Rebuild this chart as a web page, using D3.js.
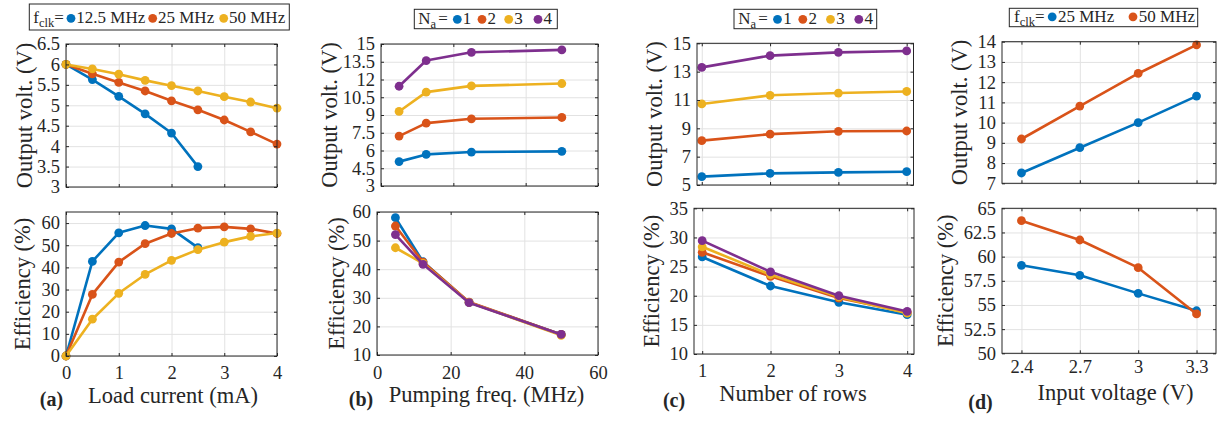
<!DOCTYPE html>
<html>
<head>
<meta charset="utf-8" />
<script src="https://d3js.org/d3.v7.min.js"></script>
<style>
  body { margin: 0; background: #fff; }
  svg, svg text { font-family: "Liberation Serif", "DejaVu Serif", serif !important; }
  svg text { fill: #262626; }
</style>
</head>
<body>
<svg id="viz" width="1217" height="421" font-family="Liberation Serif, DejaVu Serif, serif"></svg>
<script>
// ---- data ----
var loadCurrent = [0, 0.5, 1, 1.5, 2, 2.5, 3, 3.5, 4];
var fclkA = ["12.5 MHz", "25 MHz", "50 MHz"];
var voutA = [
  [6, 5.63, 5.22, 4.79, 4.32, 3.5],
  [6, 5.77, 5.56, 5.35, 5.11, 4.89, 4.64, 4.35, 4.05],
  [6, 5.89, 5.76, 5.61, 5.48, 5.35, 5.21, 5.08, 4.93]
];
var effA = [
  [0, 42.7, 55.6, 58.9, 57.4, 48.9],
  [0, 27.8, 42.4, 50.7, 55.3, 57.7, 58.3, 57.4, 55.3],
  [0, 16.6, 28.3, 36.8, 43.2, 48, 51.4, 54, 55.5]
];

var pumpFreq = [5, 12.5, 25, 50];
var naLabels = ["1", "2", "3", "4"];
var voutB = [
  [5.06, 5.67, 5.87, 5.93],
  [7.22, 8.31, 8.68, 8.79],
  [9.3, 10.93, 11.46, 11.66],
  [11.43, 13.6, 14.3, 14.5]
];
var effB = [
  [58.0, 42.6, 28.4, 17.2],
  [55.1, 42.5, 28.5, 17.2],
  [47.5, 42.0, 28.4, 16.9],
  [52.1, 41.7, 28.3, 17.2]
];

var rows = [1, 2, 3, 4];
var voutC = [
  [5.59, 5.82, 5.89, 5.94],
  [8.13, 8.59, 8.79, 8.81],
  [10.72, 11.33, 11.49, 11.6],
  [13.3, 14.13, 14.36, 14.46]
];
var effC = [
  [26.65, 21.67, 18.87, 16.75],
  [27.45, 23.33, 19.6, 17.15],
  [28.4, 23.6, 19.8, 17.0],
  [29.45, 24.1, 20.0, 17.3]
];

var inputV = [2.4, 2.7, 3, 3.3];
var fclkD = ["25 MHz", "50 MHz"];
var voutD = [
  [7.51, 8.76, 10.0, 11.31],
  [9.19, 10.82, 12.43, 13.84]
];
var effD = [
  [59.1, 58.07, 56.2, 54.4],
  [63.72, 61.72, 58.86, 54.07]
];

// tick values
var xTicksA = [0, 1, 2, 3, 4];
var vTicksA = [3, 3.5, 4, 4.5, 5, 5.5, 6, 6.5];
var eTicksA = [0, 10, 20, 30, 40, 50, 60];
var xTicksB = [0, 20, 40, 60];
var vTicksB = [3, 4.5, 6, 7.5, 9, 10.5, 12, 13.5, 15];
var eTicksB = [10, 20, 30, 40, 50, 60];
var xTicksC = [1, 2, 3, 4];
var vTicksC = [5, 7, 9, 11, 13, 15];
var eTicksC = [10, 15, 20, 25, 30, 35];
var xTicksD = [2.4, 2.7, 3, 3.3];
var vTicksD = [7, 8, 9, 10, 11, 12, 13, 14];
var eTicksD = [50, 52.5, 55, 57.5, 60, 62.5, 65];

// ---- drawing ----
var colors = ["#0072BD", "#D95319", "#EDB120", "#7E2F8E"];
var svg = d3.select("#viz");
var ink = "#262626";
var serif = "Liberation Serif, DejaVu Serif, serif";

function drawAxes(o) {
  var x = d3.scaleLinear().domain(o.xd).range([o.x0, o.x1]);
  var y = d3.scaleLinear().domain(o.yd).range([o.y1, o.y0]);
  var g = svg.append("g");
  var w = o.x1 - o.x0, h = o.y1 - o.y0;

  // grid
  var gx = g.append("g").attr("transform", "translate(0," + o.y1 + ")")
    .call(d3.axisBottom(x).tickValues(o.xt).tickSize(-h).tickFormat(""));
  var gy = g.append("g").attr("transform", "translate(" + o.x0 + ",0)")
    .call(d3.axisLeft(y).tickValues(o.yt).tickSize(-w).tickFormat(""));
  [gx, gy].forEach(function(a) {
    a.select(".domain").remove();
    a.selectAll("line").attr("stroke", "#e2e2e2").attr("stroke-width", 1);
  });

  // series
  o.ys.forEach(function(vals, i) {
    var pts = vals.map(function(v, j) { return [o.xs[j], v]; });
    g.append("path")
      .attr("d", d3.line().x(function(d) { return x(d[0]); }).y(function(d) { return y(d[1]); })(pts))
      .attr("fill", "none").attr("stroke", colors[i]).attr("stroke-width", 2.6)
      .attr("stroke-linejoin", "round");
    g.selectAll(null).data(pts).enter().append("circle")
      .attr("cx", function(d) { return x(d[0]); })
      .attr("cy", function(d) { return y(d[1]); })
      .attr("r", 4.4).attr("fill", colors[i]);
  });

  // axes (inward ticks on all sides)
  var left = g.append("g").attr("transform", "translate(" + o.x0 + ",0)")
    .call(d3.axisLeft(y).tickValues(o.yt).tickSize(-3).tickPadding(6).tickFormat(String));
  var right = g.append("g").attr("transform", "translate(" + o.x1 + ",0)")
    .call(d3.axisRight(y).tickValues(o.yt).tickSize(-3).tickFormat(""));
  var bottom = g.append("g").attr("transform", "translate(0," + o.y1 + ")")
    .call(d3.axisBottom(x).tickValues(o.xt).tickSize(-3).tickPadding(o.xpad || 10)
      .tickFormat(o.showX ? String : ""));
  var top = g.append("g").attr("transform", "translate(0," + o.y0 + ")")
    .call(d3.axisTop(x).tickValues(o.xt).tickSize(-3).tickFormat(""));
  [left, right, bottom, top].forEach(function(a) {
    a.select(".domain").remove();
    a.attr("font-size", 18.5).attr("font-family", serif).attr("color", ink);
    a.selectAll("line").attr("stroke", ink);
  });

  g.append("rect")
    .attr("x", o.x0).attr("y", o.y0).attr("width", w).attr("height", h)
    .attr("fill", "none").attr("stroke", ink).attr("stroke-width", 1);

  g.append("text")
    .attr("transform", "translate(" + o.ylx + "," + (o.y0 + h / 2) + ") rotate(-90)")
    .attr("text-anchor", "middle").attr("dominant-baseline", "central")
    .attr("font-family", serif).attr("font-size", 22.5).text(o.ylab);
}

var panels = [
  // (a)
  {x0: 66, x1: 277, y0: 44, y1: 187, xd: [0, 4], yd: [3, 6.5], xt: xTicksA, yt: vTicksA,
   xs: loadCurrent, ys: voutA, ylab: "Output volt. (V)", ylx: 24},
  {x0: 66, x1: 277, y0: 212, y1: 356, xd: [0, 4], yd: [0, 65], xt: xTicksA, yt: eTicksA,
   xs: loadCurrent, ys: effA, ylab: "Efficiency (%)", ylx: 22, showX: true, xpad: 10},
  // (b)
  {x0: 381, x1: 598, y0: 44, y1: 186, xd: [0, 60], yd: [3, 15], xt: xTicksB, yt: vTicksB,
   xs: pumpFreq, ys: voutB, ylab: "Output volt. (V)", ylx: 329},
  {x0: 377, x1: 598, y0: 212, y1: 355, xd: [0, 60], yd: [10, 60], xt: xTicksB, yt: eTicksB,
   xs: pumpFreq, ys: effB, ylab: "Efficiency (%)", ylx: 336.5, showX: true, xpad: 10.5},
  // (c)
  {x0: 697, x1: 913.5, y0: 43.3, y1: 185, xd: [0.93, 4.1], yd: [5, 15], xt: xTicksC, yt: vTicksC,
   xs: rows, ys: voutC, ylab: "Output volt. (V)", ylx: 654},
  {x0: 694, x1: 914, y0: 208.3, y1: 354, xd: [0.88, 4.1], yd: [10, 35], xt: xTicksC, yt: eTicksC,
   xs: rows, ys: effC, ylab: "Efficiency (%)", ylx: 651.5, showX: true, xpad: 10},
  // (d)
  {x0: 1002, x1: 1216, y0: 41.7, y1: 183.3, xd: [2.3, 3.4], yd: [7, 14], xt: xTicksD, yt: vTicksD,
   xs: inputV, ys: voutD, ylab: "Output volt. (V)", ylx: 959},
  {x0: 1002, x1: 1216, y0: 208.3, y1: 353.3, xd: [2.3, 3.4], yd: [50, 65], xt: xTicksD, yt: eTicksD,
   xs: inputV, ys: effD, ylab: "Efficiency (%)", ylx: 945.5, showX: true, xpad: 7}
];
panels.forEach(drawAxes);

// x labels and panel letters
var xLabels = [
  {t: "Load current (mA)", x: 173, y: 403},
  {t: "Pumping freq. (MHz)", x: 486.5, y: 401.5},
  {t: "Number of rows", x: 793, y: 400.5},
  {t: "Input voltage (V)", x: 1115.5, y: 399.5}
];
svg.selectAll(null).data(xLabels).enter().append("text")
  .attr("x", function(d) { return d.x; }).attr("y", function(d) { return d.y; })
  .attr("text-anchor", "middle").attr("font-family", serif).attr("font-size", 22.5)
  .text(function(d) { return d.t; });

var letters = [
  {t: "(a)", x: 51.5, y: 406},
  {t: "(b)", x: 361, y: 406},
  {t: "(c)", x: 674, y: 407},
  {t: "(d)", x: 980.5, y: 409}
];
svg.selectAll(null).data(letters).enter().append("text")
  .attr("x", function(d) { return d.x; }).attr("y", function(d) { return d.y; })
  .attr("text-anchor", "middle").attr("font-family", serif)
  .attr("font-size", 20).attr("font-weight", "bold")
  .text(function(d) { return d.t; });

// legends
function legend(o) {
  var g = svg.append("g");
  g.append("rect")
    .attr("x", o.box[0]).attr("y", o.box[1])
    .attr("width", o.box[2] - o.box[0]).attr("height", o.box[3] - o.box[1])
    .attr("fill", "#fff").attr("stroke", ink).attr("stroke-width", 1);
  var head = g.append("text").attr("x", o.hx).attr("y", o.base)
    .attr("font-family", serif).attr("font-size", 17);
  head.append("tspan").text(o.head);
  head.append("tspan").attr("dy", 4).attr("font-size", 12.5).text(o.sub);
  head.append("tspan").attr("dy", -4).attr("dx", o.eqdx || 0).text(o.eq);
  o.labels.forEach(function(l, i) {
    g.append("circle").attr("cx", o.dots[i]).attr("cy", o.cy).attr("r", 4.4).attr("fill", colors[i]);
    g.append("text").attr("x", o.dots[i] + o.tg).attr("y", o.base)
      .attr("font-family", serif).attr("font-size", 17).text(l);
  });
}

legend({box: [29.3, 4, 289.3, 30], hx: 33.3, base: 22.7, cy: 18.3, head: "f", sub: "clk", eq: "=",
  labels: fclkA, dots: [71, 152.7, 223.7], tg: 5.3});
legend({box: [414.3, 9.3, 557.3, 28.7], hx: 418.3, base: 24, cy: 19.3, head: "N", sub: "a", eq: "=", eqdx: 2,
  labels: naLabels, dots: [457.3, 482, 508.7, 538], tg: 5.5});
legend({box: [734, 9.3, 876.7, 28.7], hx: 738.3, base: 24, cy: 19.3, head: "N", sub: "a", eq: "=", eqdx: 2,
  labels: naLabels, dots: [777.5, 802.8, 830.5, 858.8], tg: 5.8});
legend({box: [1009.3, 8.3, 1197.7, 26.7], hx: 1014, base: 21.7, cy: 16.8, head: "f", sub: "clk", eq: "=",
  labels: fclkD, dots: [1052.2, 1133], tg: 5.8});
</script>
</body>
</html>
